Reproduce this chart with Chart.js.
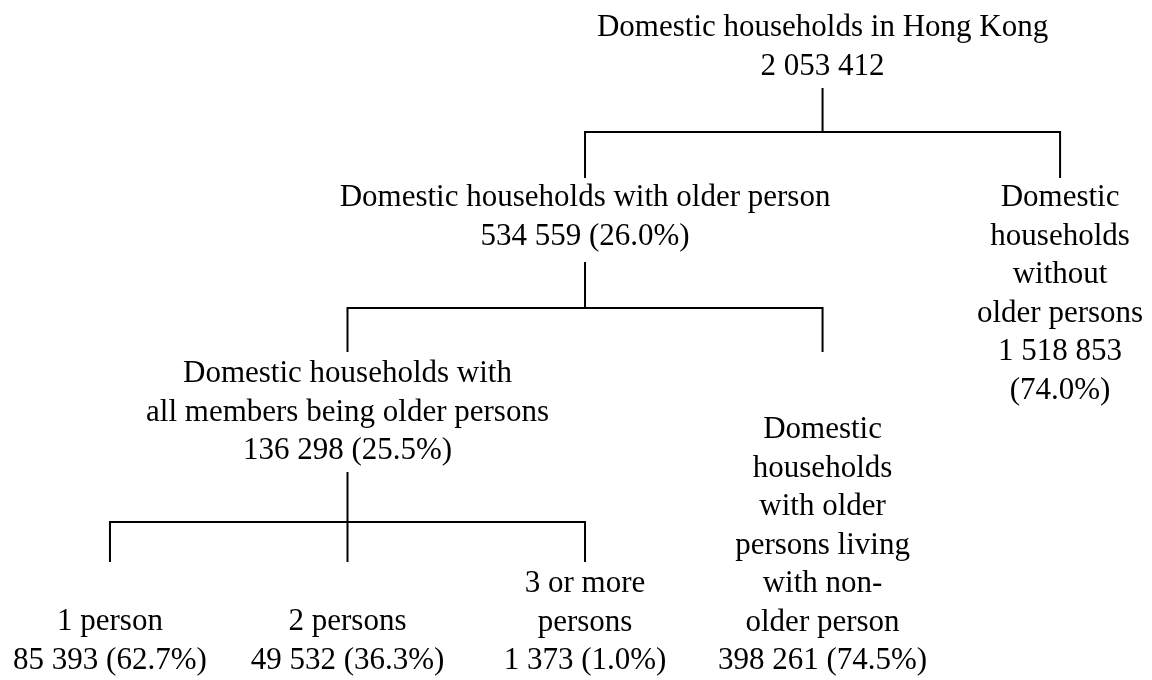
<!DOCTYPE html>
<html>
<head>
<meta charset="utf-8">
<script src="https://cdn.jsdelivr.net/npm/chart.js@4"></script>
<style>
body { margin: 0; background: #fff; }
#wrap { width: 1152px; height: 680px; }
</style>
</head>
<body>
<div id="wrap"><canvas id="tree"></canvas></div>
<script>
// tree nodes (data)
var nodeNames = [
	['Domestic households in Hong Kong'],
	['Domestic households with older person'],
	['Domestic', 'households', 'without', 'older persons'],
	['Domestic households with', 'all members being older persons'],
	['Domestic', 'households', 'with older', 'persons living', 'with non-', 'older person'],
	['1 person'],
	['2 persons'],
	['3 or more', 'persons']
];
var nodeCounts = [2053412, 534559, 1518853, 136298, 398261, 85393, 49532, 1373];
var nodeShares = [null, 26.0, 74.0, 25.5, 74.5, 62.7, 36.3, 1.0];
var nodeParent = [-1, 0, 0, 1, 1, 3, 3, 3];

// layout: grid column, y of first text line, value split over two lines
var nodeCol = [3, 2, 4, 1, 3, 0, 1, 2];
var nodeTop = [28, 198, 198, 374, 430, 622, 622, 584];
var nodeSplit = [false, false, true, false, false, false, false, false];
var lineGap = 38.5;
// connectors for parents: stem top, bar, bottom of drops
var stemTop = {0: 88, 1: 262, 3: 472};
var barY = {0: 132, 1: 308, 3: 522};
var dropY = {0: 178, 1: 352, 3: 562};

function fmt(n) {
	return String(n).replace(/\B(?=(\d{3})+(?!\d))/g, ' ');
}

function nodeLines(i) {
	var lines = nodeNames[i].slice();
	var c = fmt(nodeCounts[i]);
	if (nodeShares[i] === null) {
		lines.push(c);
	} else if (nodeSplit[i]) {
		lines.push(c);
		lines.push('(' + nodeShares[i].toFixed(1) + '%)');
	} else {
		lines.push(c + ' (' + nodeShares[i].toFixed(1) + '%)');
	}
	return lines;
}

var datasets = [];
function seg(points) {
	datasets.push({
		data: points,
		showLine: true,
		borderColor: '#000',
		borderWidth: 2,
		pointRadius: 0,
		fill: false,
		tension: 0,
		borderJoinStyle: 'miter'
	});
}
for (var p = 0; p < nodeNames.length; p++) {
	var kids = [];
	for (var k = 0; k < nodeParent.length; k++) {
		if (nodeParent[k] === p) kids.push(nodeCol[k]);
	}
	if (!kids.length) continue;
	var lo = Math.min.apply(null, kids), hi = Math.max.apply(null, kids);
	seg([{x: nodeCol[p], y: stemTop[p]}, {x: nodeCol[p], y: barY[p]}]);
	seg([{x: lo, y: dropY[p]}, {x: lo, y: barY[p]}, {x: hi, y: barY[p]}, {x: hi, y: dropY[p]}]);
	kids.forEach(function(c) {
		if (c !== lo && c !== hi) seg([{x: c, y: barY[p]}, {x: c, y: dropY[p]}]);
	});
}

var labelPlugin = {
	id: 'nodeLabels',
	afterDatasetsDraw: function(chart) {
		var ctx = chart.ctx, xs = chart.scales.x, ys = chart.scales.y;
		ctx.save();
		ctx.fillStyle = '#000';
		ctx.font = '31px "Liberation Serif", "Times New Roman", serif';
		ctx.textAlign = 'center';
		ctx.textBaseline = 'middle';
		for (var i = 0; i < nodeNames.length; i++) {
			var lines = nodeLines(i);
			for (var j = 0; j < lines.length; j++) {
				ctx.fillText(lines[j], xs.getPixelForValue(nodeCol[i]), ys.getPixelForValue(nodeTop[i] + j * lineGap));
			}
		}
		ctx.restore();
	}
};

var chart = new Chart(document.getElementById('tree'), {
	type: 'scatter',
	data: { datasets: datasets },
	options: {
		responsive: true,
		maintainAspectRatio: false,
		animation: false,
		events: [],
		layout: { padding: 0 },
		plugins: { legend: { display: false }, tooltip: { enabled: false } },
		scales: {
			x: { display: false, min: -0.463, max: 4.387 },
			y: { display: false, min: 0, max: 680, reverse: true }
		}
	},
	plugins: [labelPlugin]
});
</script>
</body>
</html>
